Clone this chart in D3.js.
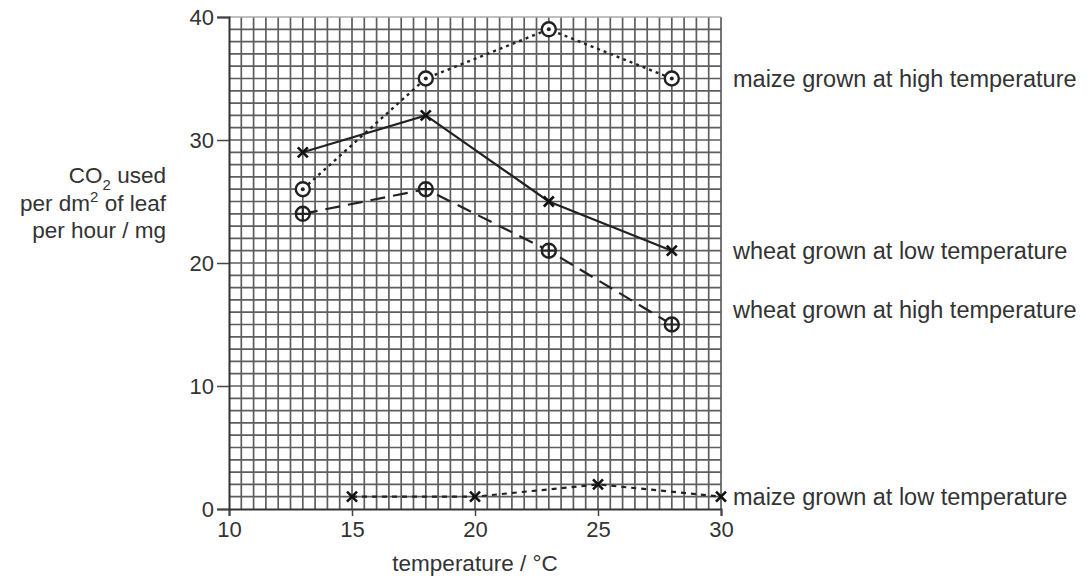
<!DOCTYPE html>
<html>
<head>
<meta charset="utf-8">
<script src="https://cdn.jsdelivr.net/npm/d3@7"></script>
<style>
  body { margin: 0; background: #fff; }
  text { font-family: "Liberation Sans", Arial, sans-serif; fill: #333; }
</style>
</head>
<body>
<div id="chart"></div>
<script>
// values
let xTicks = [10, 15, 20, 25, 30];
let yTicks = [0, 10, 20, 30, 40];

let maizeHighX = [13, 18, 23, 28];
let maizeHighY = [26, 35, 39, 35];
let wheatLowX = [13, 18, 23, 28];
let wheatLowY = [29, 32, 25, 21];
let wheatHighX = [13, 18, 23, 28];
let wheatHighY = [24, 26, 21, 15];
let maizeLowX = [15, 20, 25, 30];
let maizeLowY = [1, 1, 2, 1];

let seriesNames = ["maize grown at high temperature", "wheat grown at low temperature",
    "wheat grown at high temperature", "maize grown at low temperature"];
// where each label sits, in CO2 units
let labelY = [35, 21, 16.2, 1];

let svg = d3.select('#chart')
    .append('svg')
    .attr('width', 1088)
    .attr('height', 580);

let x = d3.scaleLinear().domain([10, 30]).range([229, 721]);
let y = d3.scaleLinear().domain([0, 40]).range([509, 17]);

// graph paper: 0.5 degC by 1 mg squares
let grid = svg.append('g');
grid.selectAll('line.v')
    .data(d3.range(10.5, 30.01, 0.5))
    .enter().append('line')
    .attr('x1', d => x(d)).attr('x2', d => x(d))
    .attr('y1', y(40)).attr('y2', y(0))
    .style('stroke', '#5e5e5e').style('stroke-width', 1.7);
grid.selectAll('line.h')
    .data(d3.range(1, 39.5, 1))
    .enter().append('line')
    .attr('x1', x(10)).attr('x2', x(30))
    .attr('y1', d => y(d)).attr('y2', d => y(d))
    .style('stroke', '#5e5e5e').style('stroke-width', 1.7);
grid.append('line')
    .attr('x1', x(10)).attr('x2', x(30))
    .attr('y1', y(40)).attr('y2', y(40))
    .style('stroke', '#aaa').style('stroke-width', 1.4);

// axes
let xAxis = svg.append('g')
    .attr('transform', 'translate(0,' + y(0) + ')')
    .call(d3.axisBottom(x).tickValues(xTicks).tickSize(7).tickPadding(5));
let yAxis = svg.append('g')
    .attr('transform', 'translate(' + x(10) + ',0)')
    .call(d3.axisLeft(y).tickValues(yTicks).tickSize(12).tickPadding(3));
[xAxis, yAxis].forEach(function (a) {
    a.select('.domain').style('stroke', '#333').style('stroke-width', 2);
    a.selectAll('.tick line').style('stroke', '#444').style('stroke-width', 1.5);
    a.selectAll('.tick text').style('font-size', '22px')
        .style('font-family', '"Liberation Sans", Arial, sans-serif').style('fill', '#333');
});
yAxis.selectAll('.tick text').attr('dy', '0.35em');

let line = d3.line().x(d => x(d[0])).y(d => y(d[1]));

let series = [
    { xs: maizeHighX, ys: maizeHighY, dash: '3,4', width: 2.4, marker: 'circle' },
    { xs: wheatLowX, ys: wheatLowY, dash: null, width: 2.2, marker: 'cross' },
    { xs: wheatHighX, ys: wheatHighY, dash: '15,8', width: 2.2, marker: 'plus' },
    { xs: maizeLowX, ys: maizeLowY, dash: '5,5', width: 2.2, marker: 'cross' }
];

series.forEach(function (s) {
    let pts = d3.zip(s.xs, s.ys);
    svg.append('path')
        .datum(pts)
        .attr('d', line)
        .style('fill', 'none')
        .style('stroke', '#222')
        .style('stroke-width', s.width)
        .style('stroke-dasharray', s.dash);

    let m = svg.append('g').selectAll('g')
        .data(pts)
        .enter().append('g')
        .attr('transform', d => 'translate(' + x(d[0]) + ',' + y(d[1]) + ')');

    if (s.marker == 'cross') {
        m.append('path')
            .attr('d', 'M-5,-5L5,5M-5,5L5,-5')
            .style('stroke', '#111').style('stroke-width', 2.6);
    } else {
        m.append('circle').attr('r', 7)
            .style('fill', '#fff').style('stroke', '#222').style('stroke-width', 2.4);
        if (s.marker == 'circle') {
            m.append('circle').attr('r', 2).style('fill', '#222');
        } else {
            m.append('path').attr('d', 'M-7,0H7M0,-7V7')
                .style('stroke', '#222').style('stroke-width', 2.2);
        }
    }
});

// series labels on the right
svg.append('g').selectAll('text')
    .data(seriesNames)
    .enter().append('text')
    .attr('x', 733)
    .attr('y', (d, i) => y(labelY[i]))
    .attr('dy', '0.35em')
    .style('font-size', '23.5px')
    .text(d => d);

// axis titles
svg.append('text')
    .attr('x', 475)
    .attr('y', 571)
    .attr('text-anchor', 'middle')
    .style('font-size', '22.5px')
    .text('temperature / °C');

let yt = svg.append('text')
    .attr('text-anchor', 'end')
    .style('font-size', '22.5px');
yt.append('tspan').attr('x', 166).attr('y', 183).text('CO');
yt.append('tspan').attr('dy', 7).style('font-size', '15px').text('2');
yt.append('tspan').attr('dy', -7).text(' used');
yt.append('tspan').attr('x', 166).attr('y', 211).text('per dm');
yt.append('tspan').attr('dy', -9).style('font-size', '15px').text('2');
yt.append('tspan').attr('dy', 9).text(' of leaf');
yt.append('tspan').attr('x', 166).attr('y', 238).text('per hour / mg');
</script>
</body>
</html>
